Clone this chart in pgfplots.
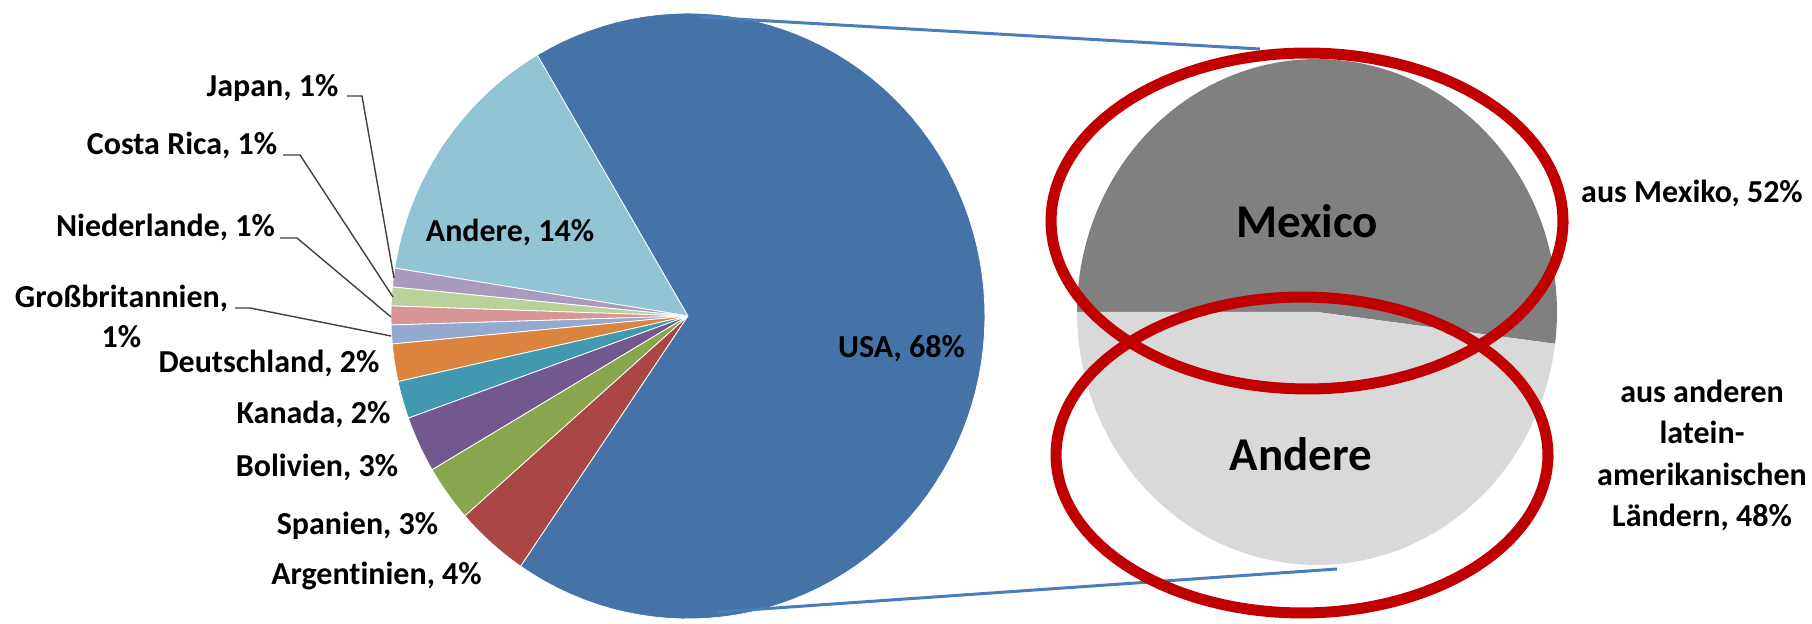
\documentclass[border=0pt]{standalone}
\usepackage{pgfplots}
\pgfplotsset{compat=1.18}
\usepackage{fontspec}
\setmainfont{Carlito}[Ligatures=NoCommon]

% Excel-2007 palette
\definecolor{cUSA}{HTML}{4572A7}
\definecolor{cAndere}{HTML}{93C4D5}
\definecolor{cJapan}{HTML}{A99BBD}
\definecolor{cCosta}{HTML}{BBD19A}
\definecolor{cNiederl}{HTML}{D89594}
\definecolor{cGB}{HTML}{93A9CF}
\definecolor{cDeutsch}{HTML}{DB843D}
\definecolor{cKanada}{HTML}{4198AF}
\definecolor{cBolivien}{HTML}{71588F}
\definecolor{cSpanien}{HTML}{89A54E}
\definecolor{cArgent}{HTML}{AA4643}
\definecolor{cMexiko}{HTML}{808080}
\definecolor{cLatein}{HTML}{D9D9D9}
\definecolor{cLink}{HTML}{4A7EBB}
\definecolor{cRing}{HTML}{C00000}
\definecolor{cLeader}{HTML}{404040}

% main pie: centre (688,316), radii 297/303, first slice starts at 120.5 deg
% #1 = share before this slice (%), #2 = share (%), #3 = colour
\newcommand{\mainslice}[3]{%
  \addplot[fill=#3, draw=white, line width=0.4pt, variable=\t, samples=90,
    domain={120.5+3.6*#1}:{120.5+3.6*(#1+#2)}]
    ({688+297*cos(\t)}, {316-303*sin(\t)}) -- (axis cs:688,316) -- cycle;
}
% second pie: centre (1317,312), radii 240/253, starts at -7.2 deg
\newcommand{\subslice}[3]{%
  \addplot[fill=#3, draw=none, variable=\t, samples=90,
    domain={-7.2+3.6*#1}:{-7.2+3.6*(#1+#2)}]
    ({1317+240*cos(\t)}, {312-253*sin(\t)}) -- (axis cs:1317,312) -- cycle;
}
\newcommand{\lbl}[3]{\node[anchor=base, inner sep=0pt,
  font=\bfseries\fontsize{16}{20}\selectfont] at (axis cs:#1,#2) {#3};}

\begin{document}
\begin{tikzpicture}
\begin{axis}[
    hide axis, scale only axis, clip=false,
    width=906pt, height=312pt,
    xmin=0, xmax=1812, ymin=0, ymax=624, y dir=reverse,
  ]
  \path (axis cs:0,0) rectangle (axis cs:1812,624);

  % Anteile in %
  \mainslice{0}{14}{cAndere}
  \mainslice{14}{1}{cJapan}
  \mainslice{15}{1}{cCosta}
  \mainslice{16}{1}{cNiederl}
  \mainslice{17}{1}{cGB}
  \mainslice{18}{2}{cDeutsch}
  \mainslice{20}{2}{cKanada}
  \mainslice{22}{3}{cBolivien}
  \mainslice{25}{3}{cSpanien}
  \mainslice{28}{4}{cArgent}
  \mainslice{32}{68}{cUSA}

  \subslice{0}{52}{cMexiko}
  \subslice{52}{48}{cLatein}

  % connector lines
  \draw[cLink, line width=1.5pt] (axis cs:700,17) -- (axis cs:1260,49);
  \draw[cLink, line width=1.5pt] (axis cs:718,612) -- (axis cs:1337,569);

  % leader lines
  \draw[cLeader, line width=0.7pt] (axis cs:347,96) -- (axis cs:362,96) -- (axis cs:394,278);
  \draw[cLeader, line width=0.7pt] (axis cs:283,155) -- (axis cs:300,155) -- (axis cs:393,297);
  \draw[cLeader, line width=0.7pt] (axis cs:280,238) -- (axis cs:297,238) -- (axis cs:391,317);
  \draw[cLeader, line width=0.7pt] (axis cs:235,308) -- (axis cs:250,308) -- (axis cs:391,336);

  % red rings
  \addplot[cRing, line width=5.5pt, variable=\t, samples=120, domain=0:360]
    ({1307+256*cos(\t)}, {221-168*sin(\t)}) -- cycle;
  \addplot[cRing, line width=5.5pt, variable=\t, samples=120, domain=0:360]
    ({1302+246*cos(\t)}, {455-158*sin(\t)}) -- cycle;

  % labels
  \lbl{272.5}{97}{Japan, 1\%}
  \lbl{182}{155}{Costa Rica, 1\%}
  \lbl{165.5}{237}{Niederlande, 1\%}
  \lbl{121.5}{308}{Großbritannien,}
  \lbl{121.5}{348}{1\%}
  \lbl{269}{373}{Deutschland, 2\%}
  \lbl{313.5}{424}{Kanada, 2\%}
  \lbl{317}{477}{Bolivien, 3\%}
  \lbl{357.5}{535}{Spanien, 3\%}
  \lbl{376.5}{585}{Argentinien, 4\%}
  \lbl{510}{242}{Andere, 14\%}
  \lbl{901.5}{358}{USA, 68\%}
  \lbl{1692}{203}{aus Mexiko, 52\%}
  \lbl{1702}{403}{aus anderen}
  \lbl{1702}{444}{latein-}
  \lbl{1702}{486}{amerikanischen}
  \lbl{1702}{527}{Ländern, 48\%}
  \node[anchor=base, inner sep=0pt, font=\bfseries\fontsize{23.5}{28}\selectfont]
    at (axis cs:1307,238) {Mexico};
  \node[anchor=base, inner sep=0pt, font=\bfseries\fontsize{23.5}{28}\selectfont]
    at (axis cs:1301,471) {Andere};
\end{axis}
\end{tikzpicture}
\end{document}
